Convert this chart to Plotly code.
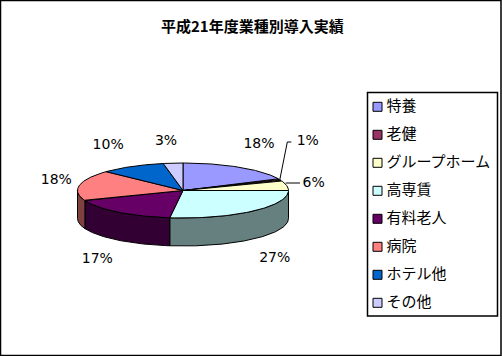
import numpy as np
import plotly.graph_objects as go

title = "平成21年度業種別導入実績"
categories = ["特養", "老健", "グループホーム", "高専賃", "有料老人", "病院", "ホテル他", "その他"]
values = [18, 1, 6, 27, 17, 18, 10, 3]
colors = ["#9999FF", "#993366", "#FFFFCC", "#CCFFFF", "#660066", "#FF8080", "#0066CC", "#CCCCFF"]
side_colors = ["#4C4C7F", "#4C1933", "#7F7F66", "#667F7F", "#330033", "#7F4040", "#003366", "#66667F"]

# layout constants (pixels in axis units)
W, H = 502, 356
CX, CY, RX, RY, DEPTH = 183, 190.5, 105.5, 27.5, 28
# label offset from the rim point at each slice's mid angle
label_offsets = [(19.5, -23), (28, -38), (27, -2), (22, 47.5), (-21, 47.5), (-23, -5), (-24, -21), (-7, -22)]
FONT_CJK = "Noto Sans CJK JP"
FONT_LATIN = "DejaVu Sans"

total = sum(values)
edges = np.concatenate([[0], np.cumsum(values)]) / total * 2 * np.pi


def rim(theta, dy=0.0):
    return CX + RX * np.sin(theta), CY - RY * np.cos(theta) + dy


fig = go.Figure()

# side walls (only the front half of the rim is visible)
for i in range(len(values)):
    a, b = max(edges[i], np.pi / 2), min(edges[i + 1], 3 * np.pi / 2)
    if b <= a:
        continue
    t = np.linspace(a, b, 80)
    xt, yt = rim(t)
    xb, yb = rim(t[::-1], DEPTH)
    fig.add_trace(go.Scatter(
        x=np.r_[xt, xb, xt[0]], y=np.r_[yt, yb, yt[0]], mode="lines", fill="toself",
        fillcolor=side_colors[i], line=dict(color="black", width=1), hoverinfo="skip"))

# top faces
for i in range(len(values)):
    t = np.linspace(edges[i], edges[i + 1], 80)
    xt, yt = rim(t)
    fig.add_trace(go.Scatter(
        x=np.r_[CX, xt, CX], y=np.r_[CY, yt, CY], mode="lines", fill="toself",
        fillcolor=colors[i], line=dict(color="black", width=1), hoverinfo="skip"))

mids = (edges[:-1] + edges[1:]) / 2
mx, my = rim(mids)

# leader lines for the two small slices
fig.add_trace(go.Scatter(x=[mx[1], mx[1] + 7.5, mx[1] + 11.5], y=[my[1], 142, 142], mode="lines",
                         line=dict(color="black", width=1), hoverinfo="skip"))
fig.add_trace(go.Scatter(x=[mx[2] - 1, 300], y=[183, 183], mode="lines",
                         line=dict(color="black", width=1), hoverinfo="skip"))

# percentage labels
fig.add_trace(go.Scatter(
    x=[x + o[0] for x, o in zip(mx, label_offsets)],
    y=[y + o[1] for y, o in zip(my, label_offsets)],
    mode="text", text=[f"{v}%" for v in values], textposition="middle center",
    textfont=dict(family=FONT_LATIN, size=14, color="black"), hoverinfo="skip"))

# legend drawn as markers + text
rows = np.arange(len(categories))
ly = 106.8 + rows * 28
fig.add_trace(go.Scatter(
    x=[377.5] * len(categories), y=ly, mode="markers",
    marker=dict(symbol="square", size=9, color=colors, line=dict(color="black", width=1)),
    hoverinfo="skip"))
fig.add_trace(go.Scatter(
    x=[386.5] * len(categories), y=ly, mode="text", text=categories, textposition="middle right",
    textfont=dict(family=FONT_CJK, size=15, color="black"), hoverinfo="skip"))

fig.update_layout(
    width=W, height=H, margin=dict(l=0, r=0, t=0, b=0), showlegend=False,
    paper_bgcolor="white", plot_bgcolor="white",
    xaxis=dict(range=[0, W], visible=False, fixedrange=True),
    yaxis=dict(range=[H, 0], visible=False, fixedrange=True),
    annotations=[dict(x=252, y=25.5, xref="x", yref="y", text=f"<b>{title}</b>", showarrow=False,
                      font=dict(family=FONT_CJK, size=15, color="black"))],
    shapes=[
        dict(type="rect", xref="x", yref="y", x0=0.5, y0=0.5, x1=501, y1=355.5, line=dict(color="black", width=1.5)),
        dict(type="rect", xref="x", yref="y", x0=367.5, y0=92.5, x1=497.5, y1=316, line=dict(color="black", width=1.5)),
    ],
)
fig.write_html("out.html", config={"displayModeBar": False},
               post_script="document.body.style.margin='0';document.documentElement.style.overflow='hidden';")
